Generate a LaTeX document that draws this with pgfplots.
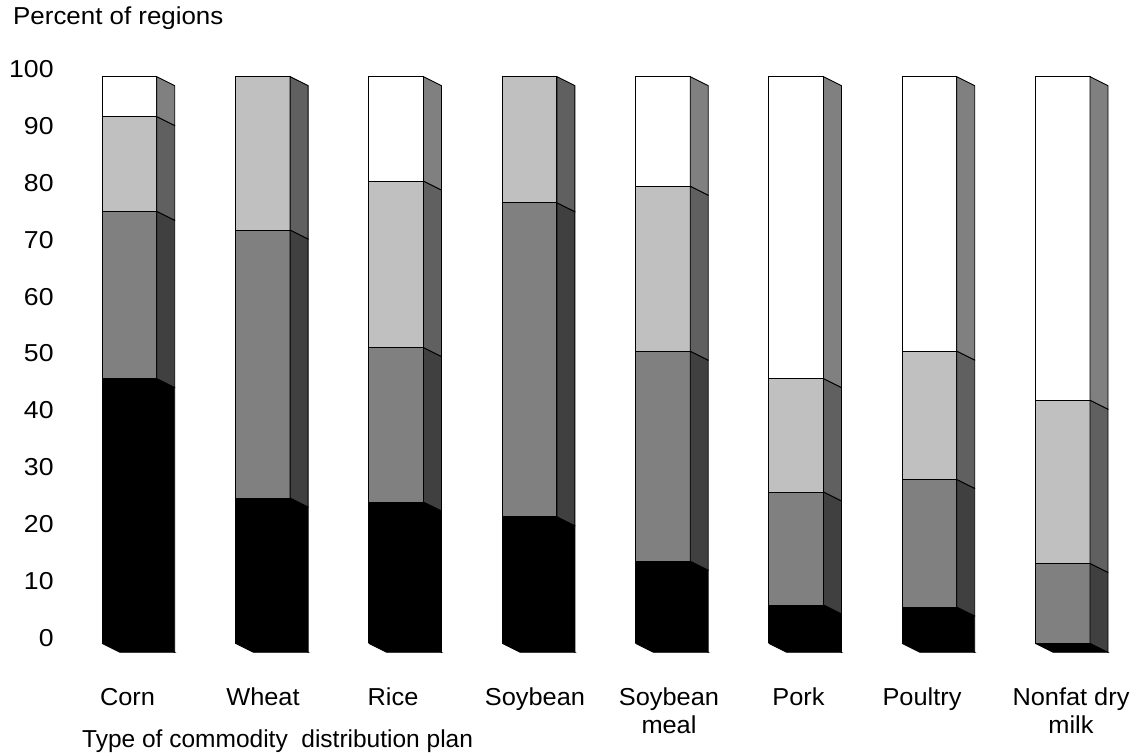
\documentclass[border=0pt]{standalone}
\usepackage{pgfplots}
\usepackage{fontspec}
\setmainfont{Liberation Sans}
\pgfplotsset{compat=1.18}

% Fills: black / mid grey / light grey / white, each with a darker side wall
\definecolor{frontB}{HTML}{808080}
\definecolor{sideB}{HTML}{404040}
\definecolor{frontC}{HTML}{C0C0C0}
\definecolor{sideC}{HTML}{606060}
\definecolor{frontD}{HTML}{FFFFFF}
\definecolor{sideD}{HTML}{808080}

% Bar geometry: face width and depth offsets, in axis units
\newcommand{\barw}{54.7}
\newcommand{\depthx}{18}
\newcommand{\depthy}{1.58}
\newcommand{\barbase}{-0.93}
\newcommand{\bartop}{98.65}

% One stacked segment: left edge, lower value, upper value, face fill, wall fill
\newcommand{\seg}[5]{%
  \pgfmathsetmacro{\xr}{#1+\barw}%
  \pgfmathsetmacro{\xb}{#1+\barw+\depthx}%
  \pgfmathsetmacro{\lob}{#2-\depthy}%
  \pgfmathsetmacro{\hib}{#3-\depthy}%
  \addplot[fill=#4,draw=black,line width=0.9pt,mark=none,forget plot]
    coordinates {(#1,#2)(\xr,#2)(\xr,#3)(#1,#3)(#1,#2)};
  \addplot[fill=#5,draw=black,line width=0.9pt,mark=none,forget plot]
    coordinates {(\xr,#2)(\xb,\lob)(\xb,\hib)(\xr,#3)(\xr,#2)};
}
% Underside of a bar
\newcommand{\under}[1]{%
  \pgfmathsetmacro{\xr}{#1+\barw}%
  \pgfmathsetmacro{\xb}{#1+\barw+\depthx}%
  \pgfmathsetmacro{\xc}{#1+\depthx}%
  \pgfmathsetmacro{\lob}{\barbase-\depthy}%
  \addplot[fill=black,draw=black,line width=0.9pt,mark=none,forget plot]
    coordinates {(#1,\barbase)(\xc,\lob)(\xb,\lob)(\xr,\barbase)(#1,\barbase)};
}

\begin{document}
\begin{tikzpicture}
\useasboundingbox (0,0) rectangle (1144pt,755pt);
\begin{axis}[
  at={(0,0)},anchor=south west,
  scale only axis,width=1144pt,height=755pt,
  xmin=0,xmax=1144,ymin=-20.562,ymax=112.127,
  clip=false,
  axis line style={draw=none},
  major tick length=0pt,
  tick align=outside,
  ytick={0,10,...,100},
  xtick={127.5,263,393,535,669,798.5,922,1071},
  xticklabels={\strut Corn,\strut Wheat,\strut Rice,\strut Soybean,\strut Soybean\\meal,\strut Pork,\strut Poultry,\strut Nonfat dry\\milk},
  /pgf/number format/assume math mode=true,
  tick label style={font=\fontsize{24.5}{28}\selectfont,xscale=1.035},
  yticklabel style={anchor=east,xshift=52pt,inner xsep=0pt,xscale=1.05},
  xticklabel style={anchor=north,align=center,inner ysep=0pt,yshift=69.6pt},
]
% Corn
\under{102}
\seg{102}{\barbase}{45.6}{black}{black}
\seg{102}{45.6}{75.0}{frontB}{sideB}
\seg{102}{75.0}{91.65}{frontC}{sideC}
\seg{102}{91.65}{\bartop}{frontD}{sideD}
% Wheat
\under{235.4}
\seg{235.4}{\barbase}{24.6}{black}{black}
\seg{235.4}{24.6}{71.7}{frontB}{sideB}
\seg{235.4}{71.7}{\bartop}{frontC}{sideC}
% Rice
\under{368.8}
\seg{368.8}{\barbase}{23.9}{black}{black}
\seg{368.8}{23.9}{51.05}{frontB}{sideB}
\seg{368.8}{51.05}{80.3}{frontC}{sideC}
\seg{368.8}{80.3}{\bartop}{frontD}{sideD}
% Soybean
\under{502.2}
\seg{502.2}{\barbase}{21.3}{black}{black}
\seg{502.2}{21.3}{76.5}{frontB}{sideB}
\seg{502.2}{76.5}{\bartop}{frontC}{sideC}
% Soybean meal
\under{635.5}
\seg{635.5}{\barbase}{13.5}{black}{black}
\seg{635.5}{13.5}{50.4}{frontB}{sideB}
\seg{635.5}{50.4}{79.4}{frontC}{sideC}
\seg{635.5}{79.4}{\bartop}{frontD}{sideD}
% Pork
\under{768.8}
\seg{768.8}{\barbase}{5.8}{black}{black}
\seg{768.8}{5.8}{25.66}{frontB}{sideB}
\seg{768.8}{25.66}{45.6}{frontC}{sideC}
\seg{768.8}{45.6}{\bartop}{frontD}{sideD}
% Poultry
\under{902}
\seg{902}{\barbase}{5.45}{black}{black}
\seg{902}{5.45}{27.86}{frontB}{sideB}
\seg{902}{27.86}{50.44}{frontC}{sideC}
\seg{902}{50.44}{\bartop}{frontD}{sideD}
% Nonfat dry milk
\under{1035.3}
\seg{1035.3}{\barbase}{13.1}{frontB}{sideB}
\seg{1035.3}{13.1}{41.8}{frontC}{sideC}
\seg{1035.3}{41.8}{\bartop}{frontD}{sideD}
\end{axis}
% Axis captions
\node[anchor=base west,inner sep=0pt,xscale=1.057,font=\fontsize{24.5}{28}\selectfont] at (13pt,730pt) {Percent of regions};
\node[anchor=base west,inner sep=0pt,font=\fontsize{24.5}{28}\selectfont] at (82pt,7pt) {Type of commodity\ \ distribution plan};
\end{tikzpicture}
\end{document}
